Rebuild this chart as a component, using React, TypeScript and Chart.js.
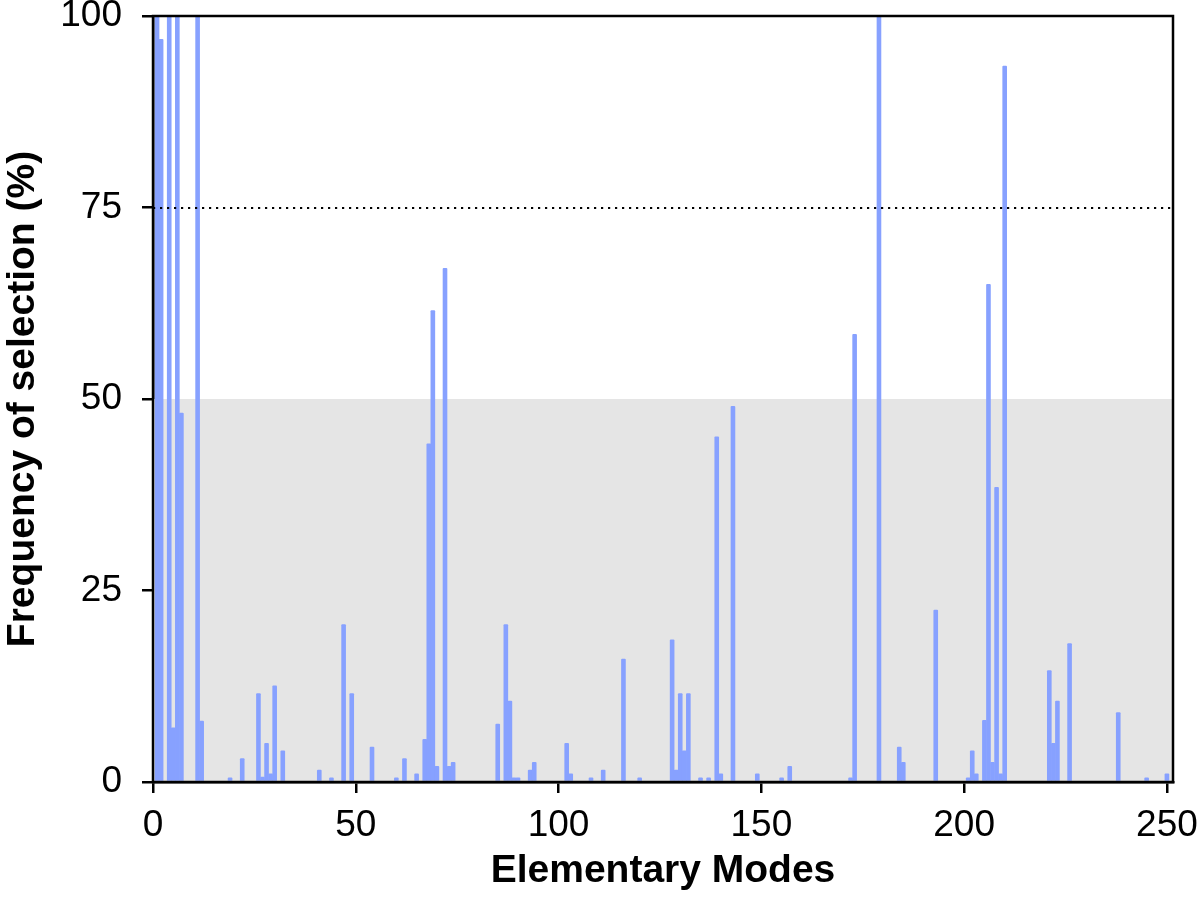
import React, { useEffect, useRef } from "react";
import { Chart, registerables } from "chart.js";

Chart.register(...registerables);

const modeIds = [
  1, 2, 4, 5, 6, 7, 11, 12, 19, 22, 26, 27, 28, 29, 30, 32, 41, 44, 47, 49,
  54, 60, 62, 65, 67, 68, 69, 70, 72, 73, 74, 85, 87, 88, 89, 90, 93, 94,
  102, 103, 108, 111, 116, 120, 128, 129, 130, 131, 132, 135, 137, 139, 140,
  143, 149, 155, 157, 172, 173, 179, 184, 185, 193, 201, 202, 203, 205, 206,
  207, 208, 209, 210, 221, 222, 223, 226, 238, 245, 250,
];

const frequencies = [
  100, 97, 100, 7.1, 100, 48.2, 100, 8.0, 0.6, 3.1, 11.6, 0.7, 5.1, 1.1, 12.6,
  4.1, 1.6, 0.6, 20.6, 11.6, 4.6, 0.6, 3.1, 1.1, 5.6, 44.2, 61.6, 2.1, 67.1,
  2.1, 2.6, 7.6, 20.6, 10.6, 0.6, 0.6, 1.6, 2.6, 5.1, 1.1, 0.6, 1.6, 16.1, 0.6,
  18.6, 1.6, 11.6, 4.1, 11.6, 0.6, 0.6, 45.1, 1.1, 49.1, 1.1, 0.6, 2.1, 0.6,
  58.5, 100, 4.6, 2.6, 22.5, 0.6, 4.1, 1.1, 8.1, 65.0, 2.6, 38.5, 1.1, 93.5,
  14.6, 5.1, 10.6, 18.1, 9.1, 0.6, 1.1,
];

const xTickValues = [0, 50, 100, 150, 200, 250];
const yTickValues = [0, 25, 50, 75, 100];
const shadedBand = [0, 50];
const thresholdLine = 75;

const FONT = "'Liberation Sans', Arial, sans-serif";

const decorPlugin = {
  id: "decor",
  beforeDatasetsDraw(chart: any) {
    const { ctx, chartArea, scales } = chart;
    const y = scales.y;
    ctx.save();
    ctx.fillStyle = "#e5e5e5";
    const yTop = y.getPixelForValue(shadedBand[1]);
    const yBot = y.getPixelForValue(shadedBand[0]);
    ctx.fillRect(chartArea.left, yTop, chartArea.right - chartArea.left, yBot - yTop);
    ctx.restore();
  },
  afterDatasetsDraw(chart: any) {
    const { ctx, chartArea, scales } = chart;
    const y = scales.y;
    ctx.save();
    ctx.strokeStyle = "#000";
    ctx.lineWidth = 2.2;
    ctx.setLineDash([2.2, 4.8]);
    const yl = Math.round(y.getPixelForValue(thresholdLine));
    ctx.beginPath();
    ctx.moveTo(chartArea.left, yl);
    ctx.lineTo(chartArea.right, yl);
    ctx.stroke();
    ctx.setLineDash([]);
    ctx.lineWidth = 2.5;
    ctx.strokeRect(
      chartArea.left,
      chartArea.top,
      chartArea.right - chartArea.left,
      chartArea.bottom - chartArea.top
    );
    ctx.restore();
  },
};

export default function App() {
  const canvasRef = useRef<HTMLCanvasElement | null>(null);

  useEffect(() => {
    if (!canvasRef.current) return;
    const chart = new Chart(canvasRef.current, {
      type: "bar",
      data: {
        datasets: [
          {
            data: modeIds.map((m, i) => ({ x: m, y: frequencies[i] })),
            backgroundColor: "rgb(135,161,255)",
            borderWidth: 0,
            barPercentage: 1,
            categoryPercentage: 1.14,
            borderRadius: 1,
          },
        ],
      },
      options: {
        animation: false,
        responsive: true,
        maintainAspectRatio: false,
        layout: { padding: { top: 16, right: 27, left: 0, bottom: 0 } },
        plugins: { legend: { display: false }, tooltip: { enabled: false } },
        scales: {
          x: {
            type: "linear",
            offset: false,
            min: 0,
            max: 251.5,
            afterFit(scale: any) {
              scale.height = 139;
              scale.paddingLeft = 0;
              scale.paddingRight = 0;
            },
            afterBuildTicks(scale: any) {
              scale.ticks = xTickValues.map((v) => ({ value: v }));
            },
            ticks: {
              includeBounds: false,
              color: "#000",
              font: { family: FONT, size: 37, lineHeight: 1 },
              padding: 14,
              maxRotation: 0,
            },
            grid: {
              offset: false,
              drawOnChartArea: false,
              drawTicks: true,
              tickLength: 11,
              color: "#000",
              lineWidth: 2.5,
            },
            border: { display: true, color: "#000", width: 2.5 },
            title: {
              display: true,
              text: "Elementary Modes",
              color: "#000",
              font: { family: FONT, size: 39, weight: "bold", lineHeight: 1 },
              padding: { top: 0, bottom: 30 },
            },
          },
          y: {
            type: "linear",
            min: 0,
            max: 100,
            afterFit(scale: any) {
              scale.width = 153;
              scale.paddingTop = 0;
              scale.paddingBottom = 0;
            },
            afterBuildTicks(scale: any) {
              scale.ticks = yTickValues.map((v) => ({ value: v }));
            },
            ticks: {
              color: "#000",
              font: { family: FONT, size: 37, lineHeight: 1 },
              padding: 20,
            },
            grid: {
              drawOnChartArea: false,
              drawTicks: true,
              tickLength: 11,
              color: "#000",
              lineWidth: 2.5,
            },
            border: { display: true, color: "#000", width: 2.5 },
            title: {
              display: true,
              text: "Frequency of selection (%)",
              color: "#000",
              font: { family: FONT, size: 39, weight: "bold", lineHeight: 1 },
              padding: { top: 4, bottom: 0 },
            },
          },
        },
      },
      plugins: [decorPlugin],
    });
    return () => chart.destroy();
  }, []);

  return (
    <div style={{ position: "absolute", left: 0, top: 0, width: 1200, height: 921 }}>
      <canvas ref={canvasRef} />
    </div>
  );
}
